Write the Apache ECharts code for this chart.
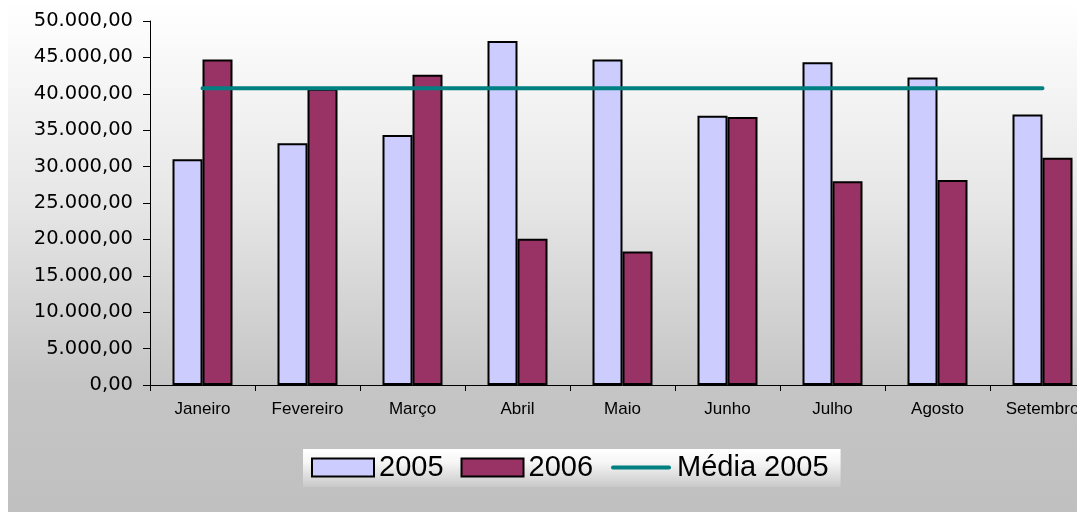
<!DOCTYPE html>
<html>
<head>
<meta charset="utf-8">
<script src="https://cdn.jsdelivr.net/npm/echarts@6/dist/echarts.min.js"></script>
<style>
html,body{margin:0;padding:0;background:#ffffff;overflow:hidden;width:1077px;height:512px;}
#chart{width:1095px;height:512px;}
</style>
</head>
<body>
<div id="chart"></div>
<script>
var categories = ['Janeiro','Fevereiro','Março','Abril','Maio','Junho','Julho','Agosto','Setembro'];
var values2005 = [31000, 33200, 34350, 47250, 44700, 37000, 44350, 42250, 37150];
var values2006 = [44700, 40700, 42600, 20100, 18350, 36800, 28000, 28150, 31200];
var media2005 = [40750, 40750, 40750, 40750, 40750, 40750, 40750, 40750, 40750];
var seriesNames = ['2005', '2006', 'Média 2005'];

function fmtBR(v) {
  var neg = v < 0; v = Math.abs(v);
  var intPart = Math.floor(v).toString();
  var dec = Math.round((v - Math.floor(v)) * 100);
  var s = '';
  while (intPart.length > 3) {
    s = '.' + intPart.slice(-3) + s;
    intPart = intPart.slice(0, -3);
  }
  s = intPart + s;
  return (neg ? '-' : '') + s + ',' + (dec < 10 ? '0' + dec : dec);
}

var chart = echarts.init(document.getElementById('chart'), null, {renderer: 'canvas'});
var option = {
  animation: false,
  backgroundColor: '#ffffff',
  graphic: [{
    type: 'rect',
    z: -10,
    silent: true,
    shape: {x: 8, y: 0, width: 1087, height: 512},
    style: {
      fill: new echarts.graphic.LinearGradient(0, 0, 0, 1, [
        {offset: 0, color: '#ffffff'},
        {offset: 0.06, color: '#fcfcfc'},
        {offset: 0.4, color: '#e6e6e6'},
        {offset: 0.75, color: '#c5c5c5'},
        {offset: 1, color: '#c0c0c0'}
      ])
    }
  }],
  grid: {left: 150, right: 0, top: 21, bottom: 127, containLabel: false},
  legend: {
    data: [
      {name: seriesNames[0], icon: 'rect'},
      {name: seriesNames[1], icon: 'rect'},
      {name: seriesNames[2], icon: 'path://M0,0 M62,18 M3,7 L59,7 A2,2 0 0 1 59,11 L3,11 A2,2 0 0 1 3,7 Z'}
    ],
    left: 303,
    top: 449,
    padding: [4, 12, 5, 8],
    itemWidth: 62,
    itemHeight: 18,
    itemGap: 17,
    backgroundColor: new echarts.graphic.LinearGradient(0, 0, 0, 1, [
      {offset: 0, color: '#ffffff'},
      {offset: 0.35, color: '#f6f6f6'},
      {offset: 1, color: '#c9c9c9'}
    ]),
    textStyle: {fontFamily: 'Liberation Sans, Arial, sans-serif', fontSize: 29, color: '#000000'}
  },
  xAxis: {
    type: 'category',
    data: categories,
    boundaryGap: true,
    axisLine: {show: true, onZero: false, lineStyle: {color: '#000000', width: 1}},
    axisTick: {show: true, inside: false, length: 6, alignWithLabel: false, lineStyle: {color: '#000000'}},
    axisLabel: {interval: 0, margin: 16, fontFamily: 'Liberation Sans, Arial, sans-serif', fontSize: 17, color: '#000000'},
    splitLine: {show: false}
  },
  yAxis: {
    type: 'value',
    min: 0,
    max: 50000,
    interval: 5000,
    axisLine: {show: true, lineStyle: {color: '#000000', width: 1}},
    axisTick: {show: true, inside: false, length: 7, lineStyle: {color: '#000000'}},
    axisLabel: {margin: 17, fontFamily: 'DejaVu Sans, sans-serif', fontSize: 19.5, color: '#000000', formatter: function (v) { return fmtBR(v); }},
    splitLine: {show: false}
  },
  series: [
    {
      name: seriesNames[0],
      type: 'bar',
      data: values2005,
      barWidth: 30,
      barGap: '0%',
      itemStyle: {color: '#ccccff', borderColor: '#000000', borderWidth: 2}
    },
    {
      name: seriesNames[1],
      type: 'bar',
      data: values2006,
      barWidth: 30,
      barGap: '0%',
      itemStyle: {color: '#993366', borderColor: '#000000', borderWidth: 2}
    },
    {
      name: seriesNames[2],
      type: 'line',
      data: media2005,
      symbol: 'none',
      z: 5,
      lineStyle: {color: '#008080', width: 4, cap: 'round'},
      itemStyle: {color: '#008080'}
    }
  ]
};
chart.setOption(option);
</script>
</body>
</html>
